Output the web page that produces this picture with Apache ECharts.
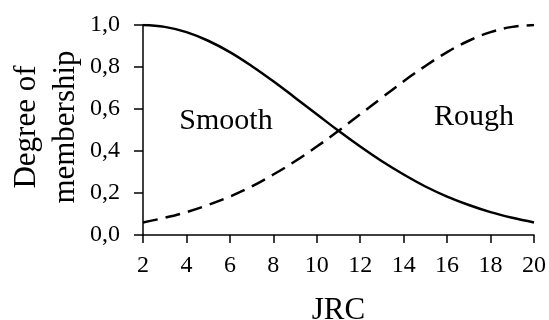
<!DOCTYPE html>
<html><head><meta charset="utf-8">
<script src="https://cdn.jsdelivr.net/npm/echarts@6/dist/echarts.min.js"></script>
<style>html,body{margin:0;padding:0;background:#fff}#c{width:549px;height:320px}</style>
</head><body><div id="c"></div>
<script>
var jrc = [2,3,4,5,6,7,8,9,10,11,12,13,14,15,16,17,18,19,20];
var smooth = [1.00,0.991,0.966,0.925,0.871,0.805,0.732,0.654,0.575,0.496,0.421,0.351,0.288,0.231,0.183,0.143,0.109,0.082,0.06];
var rough = [0.06,0.082,0.109,0.143,0.183,0.231,0.288,0.351,0.421,0.496,0.575,0.654,0.732,0.805,0.871,0.925,0.966,0.991,1.00];
var labels = ['Smooth','Rough'];
var yTitle = 'Degree of\nmembership';
var ff = '"Times New Roman", Tinos, "Liberation Serif", "Nimbus Roman", serif';
var chart = echarts.init(document.getElementById('c'));
chart.setOption({
  animation:false,
  grid:{left:143,right:15,top:25,bottom:85,containLabel:false,outerBoundsMode:'none'},
  xAxis:{type:'value',min:2,max:20,interval:2,
    name:'JRC',nameLocation:'middle',nameGap:60,
    nameTextStyle:{fontFamily:ff,fontSize:31,color:'#000'},
    axisLine:{lineStyle:{color:'#000',width:1.5}},
    axisTick:{show:true,length:8,lineStyle:{color:'#000',width:1.5}},
    axisLabel:{fontFamily:ff,fontSize:24,color:'#000',margin:19},
    splitLine:{show:false}},
  yAxis:{type:'value',min:0,max:1,interval:0.2,
    axisLine:{show:true,lineStyle:{color:'#000',width:1.5}},
    axisTick:{show:true,length:9,lineStyle:{color:'#000',width:1.5}},
    axisLabel:{fontFamily:ff,fontSize:24,color:'#000',margin:23,
      formatter:function(v){return v.toFixed(1).replace('.',',');}},
    splitLine:{show:false}},
  series:[
    {type:'line',data:jrc.map(function(x,i){return [x,smooth[i]];}),smooth:0.4,showSymbol:false,
      lineStyle:{color:'#000',width:2.5}},
    {type:'line',data:jrc.map(function(x,i){return [x,rough[i]];}),smooth:0.4,showSymbol:false,
      lineStyle:{color:'#000',width:2.5,type:[15,8]}}
  ],
  graphic:[
    {type:'text',x:46,y:127,rotation:Math.PI/2,style:{text:yTitle,fontFamily:ff,fontSize:31,lineHeight:39,fill:'#000',align:'center',verticalAlign:'middle'}},
    {type:'text',x:226,y:121,style:{text:labels[0],fontFamily:ff,fontSize:30,fill:'#000',align:'center',verticalAlign:'middle'}},
    {type:'text',x:474,y:117,style:{text:labels[1],fontFamily:ff,fontSize:30,fill:'#000',align:'center',verticalAlign:'middle'}}
  ]
});
</script></body></html>
